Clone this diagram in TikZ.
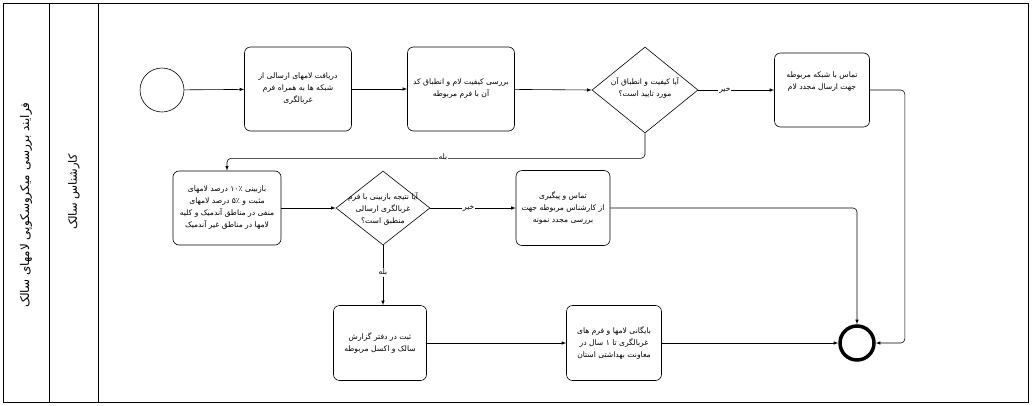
\documentclass[tikz,border=0pt]{standalone}
\usepackage{fontspec}
\usetikzlibrary{shapes.geometric}
\TeXXeTstate=1
\newfontfamily\farsifont[Script=Arabic]{DejaVu Sans}
\newcommand{\rtline}[1]{\beginR #1\endR}

\tikzset{
  task/.style={draw, rounded corners=6pt, align=center, line width=0.6pt,
    font=\farsifont\fontsize{7.6}{12}\selectfont},
  gate/.style={draw, diamond, inner sep=0pt, line width=0.6pt},
  gatetext/.style={align=center, font=\farsifont\fontsize{7.6}{12}\selectfont},
  flow/.style={-latex, line width=0.6pt},
  answer/.style={fill=white, inner sep=1pt, font=\farsifont\fontsize{7.6}{9}\selectfont}
}

\begin{document}
\begin{tikzpicture}[x=1pt, y=-1pt]
  \useasboundingbox (0,0) rectangle (1033,405);

  % pool and lane
  \draw[line width=0.6pt] (3,3) rectangle (1028,402);
  \draw[line width=0.6pt] (49,3) -- (49,402);
  \draw[line width=0.6pt] (98,3) -- (98,402);
  \node[rotate=90, font=\farsifont\fontsize{12}{14}\selectfont] (pool) at (26,205)
    {\rtline{فرایند بررسی میکروسکوپی لامهای سالک}};
  \node[rotate=90, font=\farsifont\fontsize{11.5}{14}\selectfont] (lane) at (74,192)
    {\rtline{کارشناس سالک}};

  % events
  \node[draw, circle, minimum size=44pt, line width=0.6pt] (start) at (162,90) {};
  \node[draw, circle, minimum size=34pt, line width=3.5pt] (finish) at (857,343) {};

  % first row
  \node[task, minimum width=107pt, minimum height=84pt] (recv) at (298,89)
    {\rtline{دریافت لامهای ارسالی از}\\\rtline{شبکه ها به همراه فرم}\\\rtline{غربالگری}};
  \node[task, minimum width=107pt, minimum height=84pt] (check) at (461,89)
    {\rtline{بررسی کیفیت لام و انطباق کد}\\\rtline{آن با فرم مربوطه}};
  \node[gate, minimum width=106pt, minimum height=86pt] (okq) at (645,90) {};
  \node[gatetext] (okq-t) at (645,88)
    {\rtline{آیا کیفیت و انطباق آن}\\\rtline{مورد تایید است؟}};
  \node[task, minimum width=95pt, minimum height=74pt] (resend) at (822,90)
    {\rtline{تماس با شبکه مربوطه}\\\rtline{جهت ارسال مجدد لام}\\[6pt]};

  % second row
  \node[task, minimum width=108pt, minimum height=74pt] (review) at (227,208)
    {\rtline{بازبینی ۱۰٪ درصد لامهای}\\\rtline{مثبت و ۵٪ درصد لامهای}\\\rtline{منفی در مناطق آندمیک و کلیه}\\\rtline{لامها در مناطق غیر آندمیک}};
  \node[gate, minimum width=94pt, minimum height=74pt] (matchq) at (383,208) {};
  \node[gatetext] (matchq-t) at (383,209)
    {\rtline{آیا نتیجه بازبینی با فرم}\\\rtline{غربالگری ارسالی}\\\rtline{منطبق است؟}};
  \node[task, minimum width=94pt, minimum height=75pt] (follow) at (563,208)
    {\rtline{تماس و پیگیری}\\\rtline{از کارشناس مربوطه جهت}\\\rtline{بررسی مجدد نمونه}};

  % third row
  \node[task, minimum width=93pt, minimum height=75pt] (record) at (380,343)
    {\rtline{ثبت در دفتر گزارش}\\\rtline{سالک و اکسل مربوطه}};
  \node[task, minimum width=95pt, minimum height=75pt] (archive) at (614,343)
    {\rtline{بایگانی لامها و فرم های}\\\rtline{غربالگری تا ۱ سال در}\\\rtline{معاونت بهداشتی استان}};

  % flows
  \draw[flow] (start) -- (recv);
  \draw[flow] (recv) -- (check);
  \draw[flow] (check) -- (okq.west);
  \draw[flow] (okq.east) -- node[answer, pos=0.35] (no1) {\rtline{خیر}} (resend.west);
  \draw[flow, rounded corners=4pt] (okq.south) -- ++(0,25) -| (review.north);
  \node[answer] (yes1) at (443,157) {\rtline{بله}};
  \draw[flow, rounded corners=4pt] (resend.east) -- ++(35,0) |- (finish.east);
  \draw[flow] (review) -- (matchq.west);
  \draw[flow] (matchq.east) -- node[answer, pos=0.45] (no2) {\rtline{خیر}} (follow.west);
  \draw[flow, rounded corners=4pt] (follow.east) -| (finish.north);
  \draw[flow] (matchq.south) -- node[answer, pos=0.45] (yes2) {\rtline{بله}} (record.north -| matchq.south);
  \draw[flow] (record) -- (archive);
  \draw[flow] (archive) -- (finish.west);
\end{tikzpicture}
\end{document}
